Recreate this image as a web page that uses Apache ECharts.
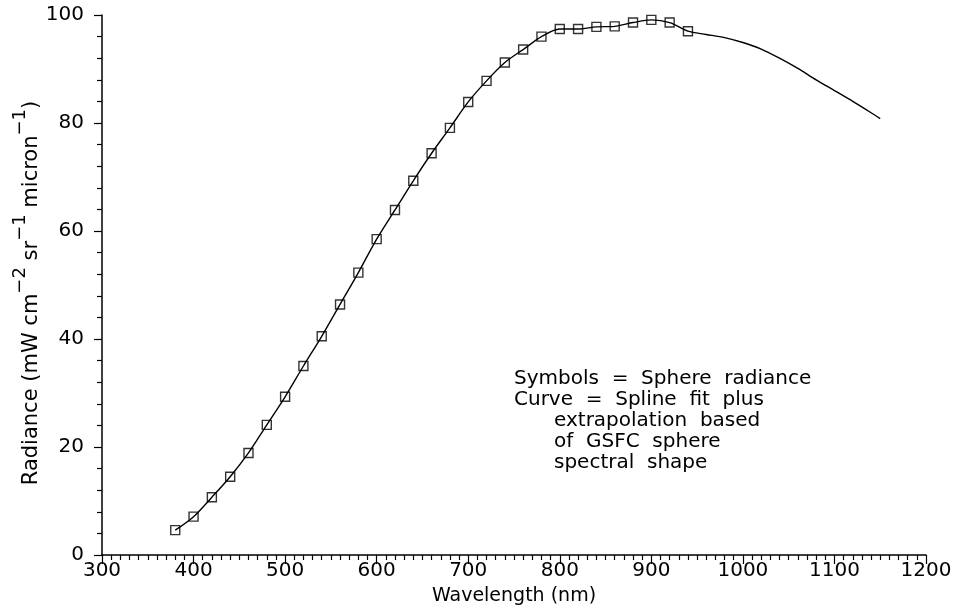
<!DOCTYPE html>
<html>
<head>
<meta charset="utf-8">
<script src="https://cdn.jsdelivr.net/npm/echarts@6/dist/echarts.min.js"></script>
<style>html,body{margin:0;padding:0;background:#fff}#c{width:956px;height:615px}</style>
</head>
<body>
<div id="c"></div>
<script>
// Measured sphere radiance (symbols)
var symWavelength = [380,400,420,440,460,480,500,520,540,560,580,600,620,640,660,680,700,720,740,760,780,800,820,840,860,880,900,920,940];
var symRadiance   = [4.6,7.1,10.7,14.5,18.9,24.1,29.3,35.0,40.5,46.4,52.3,58.5,63.9,69.3,74.4,79.1,83.9,87.8,91.2,93.6,96.0,97.4,97.4,97.8,97.9,98.6,99.1,98.6,97.0];
// Extrapolated part of curve
var tailWavelength = [960,980,1000,1020,1040,1060,1080,1100,1120,1140,1150];
var tailRadiance   = [96.4,95.8,94.9,93.7,92.0,90.1,88.0,86.0,84.0,81.9,80.8];
var xTicks = [300,400,500,600,700,800,900,1000,1100,1200];
var yTicks = [0,20,40,60,80,100];
var noteLines1 = ['Symbols  =  Sphere  radiance', 'Curve  =  Spline  fit  plus'];
var noteLines2 = ['extrapolation  based', 'of  GSFC  sphere', 'spectral  shape'];

var FONT = 'DejaVu Sans';
var symData = symWavelength.map(function(w,i){return [w, symRadiance[i]];});
var curveData = symData.concat(tailWavelength.map(function(w,i){return [w, tailRadiance[i]];}));

var chart = echarts.init(document.getElementById('c'), null, {renderer:'canvas'});
chart.setOption({
  animation:false,
  backgroundColor:'#fff',
  grid:{left:102,right:30,top:15,bottom:60,containLabel:false,outerBoundsMode:'none'},
  xAxis:{
    type:'value', min:xTicks[0], max:xTicks[xTicks.length-1], interval:100,
    name:'Wavelength (nm)', nameLocation:'middle', nameGap:32, nameMoveOverlap:false,
    nameTextStyle:{fontFamily:FONT,fontSize:19,color:'#000'},
    axisLine:{show:true,onZero:false,lineStyle:{color:'#000',width:1.5}},
    axisTick:{show:true,inside:false,length:9,lineStyle:{color:'#000',width:1.2}},
    minorTick:{show:true,splitNumber:10,length:5,lineStyle:{color:'#000',width:1.2}},
    splitLine:{show:false},
    axisLabel:{fontFamily:FONT,fontSize:20,color:'#000',margin:6,
      formatter:function(v){return String(v);}}
  },
  yAxis:{
    type:'value', min:yTicks[0], max:yTicks[yTicks.length-1], interval:20,
    name:'{a|Radiance (mW cm}{s|\u22122}{a| sr}{s|\u22121}{a| micron}{s|\u22121}{a|)}{sp| }',
    nameLocation:'middle', nameGap:60, nameMoveOverlap:false,
    nameTextStyle:{fontFamily:FONT,color:'#000',
      rich:{
        a:{fontFamily:FONT,fontSize:21,color:'#000',verticalAlign:'bottom',lineHeight:21},
        s:{fontFamily:FONT,fontSize:18,color:'#000',verticalAlign:'top',lineHeight:18},
        sp:{fontSize:18,width:16,lineHeight:31}
      }},
    axisLine:{show:true,onZero:false,lineStyle:{color:'#000',width:1.5}},
    axisTick:{show:true,inside:false,length:8,lineStyle:{color:'#000',width:1.2}},
    minorTick:{show:true,splitNumber:5,length:5,lineStyle:{color:'#000',width:1.2}},
    splitLine:{show:false},
    axisLabel:{fontFamily:FONT,fontSize:20,color:'#000',margin:18}
  },
  series:[
    {type:'line', data:curveData, smooth:0.3, showSymbol:false, symbol:'none',
     lineStyle:{color:'#000',width:1.4}, z:2},
    {type:'scatter', data:symData, symbol:'rect', symbolSize:9,
     itemStyle:{color:'rgba(0,0,0,0)',borderColor:'#000',borderWidth:1.4}, z:3}
  ],
  graphic:[
    {type:'text', left:514, top:368, style:{text:noteLines1.join('\n'), fontFamily:FONT, fontSize:20, lineHeight:21, fill:'#000'}},
    {type:'text', left:554, top:410, style:{text:noteLines2.join('\n'), fontFamily:FONT, fontSize:20, lineHeight:21, fill:'#000'}}
  ]
});
</script>
</body>
</html>
